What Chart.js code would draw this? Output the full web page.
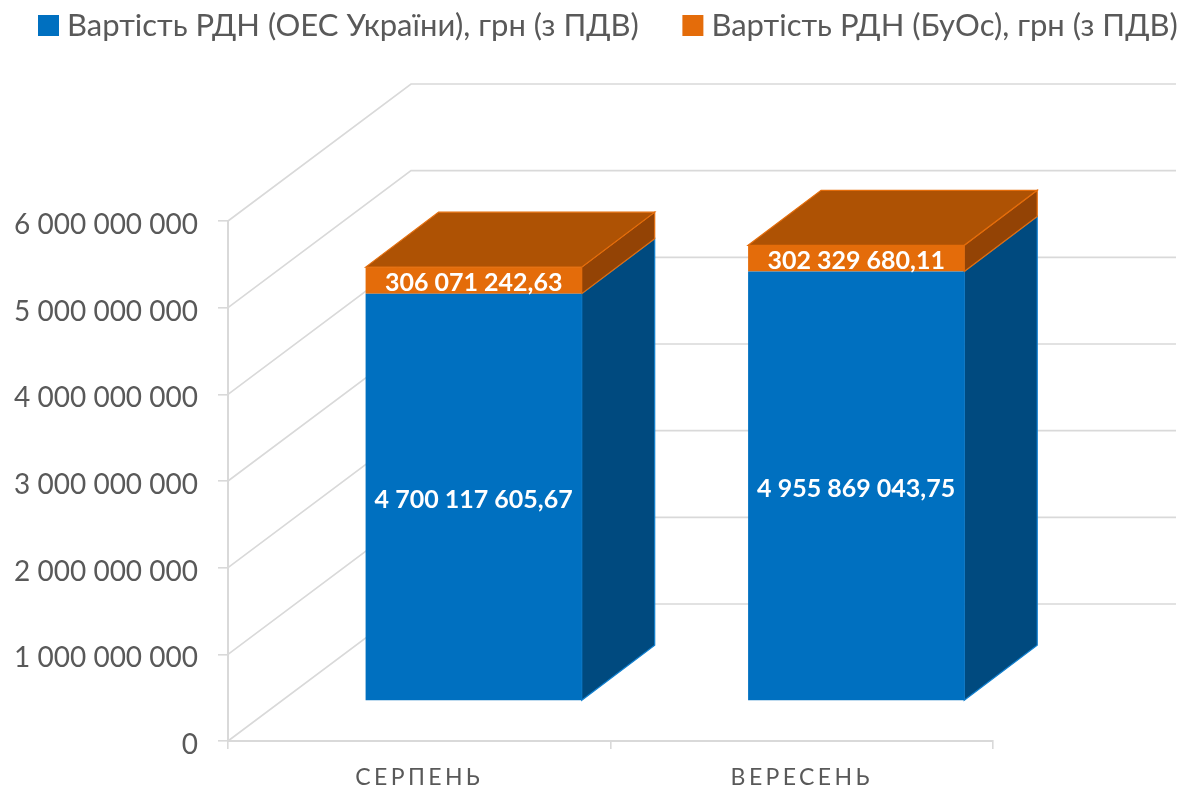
<!DOCTYPE html>
<html><head><meta charset="utf-8">
<style>html,body{margin:0;padding:0;background:#fff}#w{width:1178px;height:789px}</style>
<script src="https://cdn.jsdelivr.net/npm/chart.js@4"></script></head>
<body><div id="w"><canvas id="c" width="1178" height="789"></canvas></div>
<script>
const categories = ['СЕРПЕНЬ','ВЕРЕСЕНЬ'];
const seriesUkraine = [4700117605.67, 4955869043.75];
const seriesBuOs = [306071242.63, 302329680.11];
const seriesNames = ['Вартість РДН (ОЕС України), грн (з ПДВ)','Вартість РДН (БуОс), грн (з ПДВ)'];
const FONT = 'Lato, "Open Sans", sans-serif';
const LINE = '#d9d9d9';
const fmt = (v,d) => { const p = v.toFixed(d).split('.'); return p[0].replace(/\B(?=(\d{3})+(?!\d))/g,' ') + (p[1] ? ','+p[1] : ''); };
const faces = [{front:'#0070c0',side:'#004a7f',top:'#00528c',edge:'#0f7fcf'},{front:'#e46c0a',side:'#934305',top:'#ae5204',edge:'#e46c0a'}];
const BAR = {dx:54.4,dy:-40,ddx:73,ddy:-55}, WALL = {dx:183,dy:-137};
function poly(ctx,pts,fill,edge){ctx.beginPath();pts.forEach((p,i)=>i?ctx.lineTo(p[0],p[1]):ctx.moveTo(p[0],p[1]));ctx.closePath();ctx.fillStyle=fill;ctx.fill();if(edge){ctx.strokeStyle=edge;ctx.lineWidth=1.2;ctx.stroke();}}
const depth = {
  id:'depth',
  beforeLayout(chart){const l=chart.legend;if(l._wrapped)return;l._wrapped=true;const f=l.fit;l.fit=function(){this.maxWidth=3000;f.call(this);this.height=221;};},
  afterLayout(chart){chart.legend.left=-5.5;chart.legend.right=3000;chart.legend.top=-41;},
  beforeDatasetsDraw(chart){
    const ctx=chart.ctx,y=chart.scales.y,a=chart.chartArea;
    ctx.save();ctx.strokeStyle=LINE;ctx.lineWidth=1.6;
    y.ticks.forEach(t=>{const py=y.getPixelForValue(t.value);ctx.beginPath();ctx.moveTo(a.left,py);ctx.lineTo(a.left+WALL.dx,py+WALL.dy);ctx.lineTo(a.right+WALL.dx,py+WALL.dy);ctx.stroke();});
    ctx.restore();
    ctx.save();ctx.translate(BAR.dx,BAR.dy);
    chart.data.datasets.forEach((d,i)=>{chart.getDatasetMeta(i).data.forEach(b=>{
      const l=b.x-b.width/2,r=b.x+b.width/2,f=faces[i];
      poly(ctx,[[r,b.y],[r+BAR.ddx,b.y+BAR.ddy],[r+BAR.ddx,b.base+BAR.ddy],[r,b.base]],f.side,f.edge);
      if(i===chart.data.datasets.length-1) poly(ctx,[[l,b.y],[l+BAR.ddx,b.y+BAR.ddy],[r+BAR.ddx,b.y+BAR.ddy],[r,b.y]],f.top,f.edge);
    });});
  },
  afterDatasetsDraw(chart){
    const ctx=chart.ctx;
    ctx.font='bold 25px '+FONT;ctx.fillStyle='#fff';ctx.textAlign='center';ctx.textBaseline='middle';
    chart.data.datasets.forEach((d,i)=>{chart.getDatasetMeta(i).data.forEach((b,j)=>{ctx.fillText(fmt(d.data[j],2),b.x,(b.y+b.base)/2+3);});});
    ctx.restore();
  }
};
new Chart(document.getElementById('c'),{
  type:'bar',
  data:{labels:categories,datasets:[
    {label:seriesNames[0],data:seriesUkraine,backgroundColor:'#0070c0',clip:false},
    {label:seriesNames[1],data:seriesBuOs,backgroundColor:'#e46c0a',clip:false}
  ]},
  plugins:[depth],
  options:{
    responsive:false,animation:false,
    layout:{padding:{right:185}},
    datasets:{bar:{categoryPercentage:1,barPercentage:0.565}},
    plugins:{tooltip:{enabled:false},legend:{position:'top',align:'start',labels:{
      font:{family:FONT,size:31},color:'#595959',padding:51,boxWidth:6,boxHeight:6,
      generateLabels:c=>c.data.datasets.map((d,i)=>({text:d.label,fillStyle:d.backgroundColor,strokeStyle:d.backgroundColor,lineWidth:15,datasetIndex:i,fontColor:'#595959'}))
    }}},
    scales:{
      x:{stacked:true,afterFit:s=>{s.height=48;},afterUpdate(s){
          const o=s.drawLabels; if(!s._ls){s._ls=1;s.drawLabels=function(a){const c=this.ctx;c.save();c.letterSpacing='3.4px';o.call(this,a);c.restore();};}
        },
        grid:{drawOnChartArea:false,color:LINE,lineWidth:1.6,tickLength:8},border:{color:LINE,width:2},
        ticks:{font:{family:FONT,size:23},color:'#595959',padding:15}},
      y:{stacked:true,min:0,max:6000000000,afterFit:s=>{s.width=228;},afterUpdate(s){
          const o=s.drawLabels; if(!s._ls){s._ls=1;s.drawLabels=function(a){const c=this.ctx;c.save();c.translate(0,4);o.call(this,a);c.restore();};}
        },
        grid:{drawOnChartArea:false,color:LINE,lineWidth:1.6,tickLength:10},border:{color:LINE,width:2},
        ticks:{stepSize:1000000000,font:{family:FONT,size:28},color:'#595959',padding:20,callback:v=>fmt(v,0)}}
    }
  }
});
</script></body></html>
